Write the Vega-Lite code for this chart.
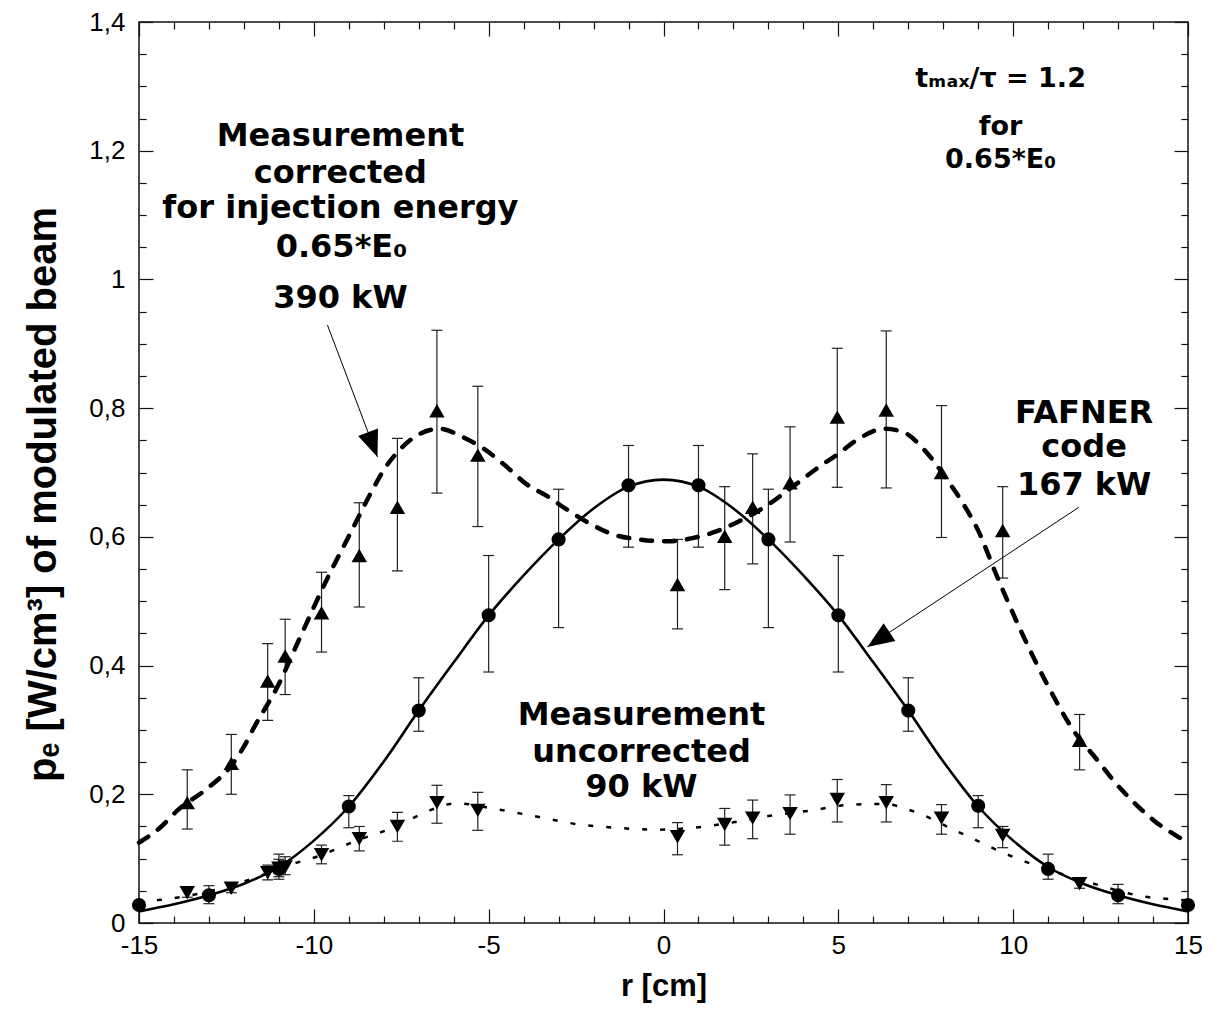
{
  "$schema": "https://vega.github.io/schema/vega-lite/v6.json",
  "width": 1049,
  "height": 901,
  "autosize": {"type": "none"},
  "padding": {"left": 139, "top": 22, "right": 31, "bottom": 105},
  "background": "white",
  "config": {
    "view": {"stroke": "#111", "strokeWidth": 1.5},
    "axis": {"grid": false, "domain": false}
  },
  "datasets": {
    "curves": [
      {"series": "fafner", "x": -15, "y": 0.018}, {"series": "fafner", "x": -14, "y": 0.029}, {"series": "fafner", "x": -13, "y": 0.043},
      {"series": "fafner", "x": -12, "y": 0.061}, {"series": "fafner", "x": -11, "y": 0.087}, {"series": "fafner", "x": -10, "y": 0.128},
      {"series": "fafner", "x": -9, "y": 0.181}, {"series": "fafner", "x": -8, "y": 0.251}, {"series": "fafner", "x": -7, "y": 0.330},
      {"series": "fafner", "x": -6, "y": 0.405}, {"series": "fafner", "x": -5, "y": 0.478}, {"series": "fafner", "x": -4, "y": 0.540},
      {"series": "fafner", "x": -3, "y": 0.596}, {"series": "fafner", "x": -2, "y": 0.644}, {"series": "fafner", "x": -1, "y": 0.678},
      {"series": "fafner", "x": 0, "y": 0.689}, {"series": "fafner", "x": 1, "y": 0.678}, {"series": "fafner", "x": 2, "y": 0.644},
      {"series": "fafner", "x": 3, "y": 0.596}, {"series": "fafner", "x": 4, "y": 0.540}, {"series": "fafner", "x": 5, "y": 0.478},
      {"series": "fafner", "x": 6, "y": 0.405}, {"series": "fafner", "x": 7, "y": 0.330}, {"series": "fafner", "x": 8, "y": 0.251},
      {"series": "fafner", "x": 9, "y": 0.181}, {"series": "fafner", "x": 10, "y": 0.128}, {"series": "fafner", "x": 11, "y": 0.087},
      {"series": "fafner", "x": 12, "y": 0.061}, {"series": "fafner", "x": 13, "y": 0.043}, {"series": "fafner", "x": 14, "y": 0.029},
      {"series": "fafner", "x": 15, "y": 0.018},
      {"series": "corrected", "x": -15, "y": 0.125}, {"series": "corrected", "x": -14.4, "y": 0.148}, {"series": "corrected", "x": -13.9, "y": 0.175},
      {"series": "corrected", "x": -13.05, "y": 0.209}, {"series": "corrected", "x": -12.4, "y": 0.242}, {"series": "corrected", "x": -12.0, "y": 0.274},
      {"series": "corrected", "x": -11.7, "y": 0.305}, {"series": "corrected", "x": -11.06, "y": 0.365}, {"series": "corrected", "x": -10.4, "y": 0.443},
      {"series": "corrected", "x": -9.6, "y": 0.537}, {"series": "corrected", "x": -8.97, "y": 0.604}, {"series": "corrected", "x": -8.4, "y": 0.665},
      {"series": "corrected", "x": -8.0, "y": 0.704}, {"series": "corrected", "x": -7.55, "y": 0.735}, {"series": "corrected", "x": -7.07, "y": 0.757},
      {"series": "corrected", "x": -6.41, "y": 0.768}, {"series": "corrected", "x": -5.74, "y": 0.755}, {"series": "corrected", "x": -5.17, "y": 0.738},
      {"series": "corrected", "x": -4.51, "y": 0.710}, {"series": "corrected", "x": -3.92, "y": 0.682}, {"series": "corrected", "x": -3.35, "y": 0.664},
      {"series": "corrected", "x": -2.78, "y": 0.643}, {"series": "corrected", "x": -2.12, "y": 0.621}, {"series": "corrected", "x": -1.45, "y": 0.604},
      {"series": "corrected", "x": -0.69, "y": 0.596}, {"series": "corrected", "x": 0.07, "y": 0.593}, {"series": "corrected", "x": 0.83, "y": 0.598},
      {"series": "corrected", "x": 1.49, "y": 0.608}, {"series": "corrected", "x": 2.15, "y": 0.624}, {"series": "corrected", "x": 2.91, "y": 0.647},
      {"series": "corrected", "x": 3.67, "y": 0.677}, {"series": "corrected", "x": 4.43, "y": 0.708}, {"series": "corrected", "x": 5.0, "y": 0.729},
      {"series": "corrected", "x": 5.57, "y": 0.752}, {"series": "corrected", "x": 6.33, "y": 0.768}, {"series": "corrected", "x": 6.89, "y": 0.762},
      {"series": "corrected", "x": 7.46, "y": 0.735}, {"series": "corrected", "x": 8.12, "y": 0.688}, {"series": "corrected", "x": 8.6, "y": 0.649},
      {"series": "corrected", "x": 8.98, "y": 0.612}, {"series": "corrected", "x": 9.55, "y": 0.537}, {"series": "corrected", "x": 10.22, "y": 0.454},
      {"series": "corrected", "x": 10.98, "y": 0.370}, {"series": "corrected", "x": 11.74, "y": 0.298}, {"series": "corrected", "x": 12.41, "y": 0.253},
      {"series": "corrected", "x": 12.89, "y": 0.220}, {"series": "corrected", "x": 13.46, "y": 0.187}, {"series": "corrected", "x": 14.03, "y": 0.159},
      {"series": "corrected", "x": 14.89, "y": 0.128}, {"series": "corrected", "x": 15, "y": 0.124},
      {"series": "uncorrected", "x": -15, "y": 0.032}, {"series": "uncorrected", "x": -14.38, "y": 0.036}, {"series": "uncorrected", "x": -13.62, "y": 0.042},
      {"series": "uncorrected", "x": -12.39, "y": 0.058}, {"series": "uncorrected", "x": -11.44, "y": 0.075}, {"series": "uncorrected", "x": -10.77, "y": 0.089},
      {"series": "uncorrected", "x": -9.92, "y": 0.103}, {"series": "uncorrected", "x": -8.78, "y": 0.128}, {"series": "uncorrected", "x": -7.64, "y": 0.150},
      {"series": "uncorrected", "x": -6.69, "y": 0.175}, {"series": "uncorrected", "x": -5.93, "y": 0.186}, {"series": "uncorrected", "x": -4.79, "y": 0.177},
      {"series": "uncorrected", "x": -3.5, "y": 0.164}, {"series": "uncorrected", "x": -2.4, "y": 0.153}, {"series": "uncorrected", "x": -1.36, "y": 0.148},
      {"series": "uncorrected", "x": -0.22, "y": 0.145}, {"series": "uncorrected", "x": 0.83, "y": 0.148}, {"series": "uncorrected", "x": 1.96, "y": 0.156},
      {"series": "uncorrected", "x": 3.1, "y": 0.167}, {"series": "uncorrected", "x": 4.24, "y": 0.175}, {"series": "uncorrected", "x": 5.38, "y": 0.184},
      {"series": "uncorrected", "x": 6.31, "y": 0.185}, {"series": "uncorrected", "x": 7.17, "y": 0.173}, {"series": "uncorrected", "x": 8.41, "y": 0.142},
      {"series": "uncorrected", "x": 10.12, "y": 0.100}, {"series": "uncorrected", "x": 11.46, "y": 0.075}, {"series": "uncorrected", "x": 12.5, "y": 0.058},
      {"series": "uncorrected", "x": 13.64, "y": 0.042}, {"series": "uncorrected", "x": 14.78, "y": 0.036}, {"series": "uncorrected", "x": 15, "y": 0.035}
    ],
    "points": [
      {"series": "circle", "x": -15, "y": 0.028, "lo": 0.024, "hi": 0.032},
      {"series": "circle", "x": -13, "y": 0.043, "lo": 0.030, "hi": 0.058},
      {"series": "circle", "x": -11, "y": 0.084, "lo": 0.068, "hi": 0.107},
      {"series": "circle", "x": -9, "y": 0.181, "lo": 0.148, "hi": 0.198},
      {"series": "circle", "x": -7, "y": 0.330, "lo": 0.298, "hi": 0.381},
      {"series": "circle", "x": -5, "y": 0.478, "lo": 0.390, "hi": 0.571},
      {"series": "circle", "x": -3, "y": 0.596, "lo": 0.459, "hi": 0.674},
      {"series": "circle", "x": -1, "y": 0.680, "lo": 0.584, "hi": 0.742},
      {"series": "circle", "x": 1, "y": 0.680, "lo": 0.584, "hi": 0.742},
      {"series": "circle", "x": 3, "y": 0.596, "lo": 0.459, "hi": 0.674},
      {"series": "circle", "x": 5, "y": 0.478, "lo": 0.390, "hi": 0.571},
      {"series": "circle", "x": 7, "y": 0.330, "lo": 0.298, "hi": 0.381},
      {"series": "circle", "x": 9, "y": 0.182, "lo": 0.148, "hi": 0.198},
      {"series": "circle", "x": 11, "y": 0.084, "lo": 0.068, "hi": 0.107},
      {"series": "circle", "x": 13, "y": 0.043, "lo": 0.030, "hi": 0.060},
      {"series": "circle", "x": 15, "y": 0.028, "lo": 0.024, "hi": 0.032},
      {"series": "up", "x": -13.62, "y": 0.187, "lo": 0.146, "hi": 0.238},
      {"series": "up", "x": -12.36, "y": 0.248, "lo": 0.200, "hi": 0.293},
      {"series": "up", "x": -11.32, "y": 0.376, "lo": 0.315, "hi": 0.434},
      {"series": "up", "x": -10.82, "y": 0.415, "lo": 0.355, "hi": 0.472},
      {"series": "up", "x": -9.78, "y": 0.482, "lo": 0.421, "hi": 0.545},
      {"series": "up", "x": -8.70, "y": 0.571, "lo": 0.491, "hi": 0.653},
      {"series": "up", "x": -7.61, "y": 0.646, "lo": 0.547, "hi": 0.753},
      {"series": "up", "x": -6.48, "y": 0.796, "lo": 0.668, "hi": 0.921},
      {"series": "up", "x": -5.31, "y": 0.727, "lo": 0.616, "hi": 0.834},
      {"series": "up", "x": 0.40, "y": 0.526, "lo": 0.457, "hi": 0.596},
      {"series": "up", "x": 1.75, "y": 0.601, "lo": 0.518, "hi": 0.678},
      {"series": "up", "x": 2.55, "y": 0.646, "lo": 0.558, "hi": 0.729},
      {"series": "up", "x": 3.62, "y": 0.684, "lo": 0.592, "hi": 0.771},
      {"series": "up", "x": 4.97, "y": 0.786, "lo": 0.677, "hi": 0.893},
      {"series": "up", "x": 6.37, "y": 0.797, "lo": 0.676, "hi": 0.920},
      {"series": "up", "x": 7.95, "y": 0.700, "lo": 0.599, "hi": 0.804},
      {"series": "up", "x": 9.70, "y": 0.610, "lo": 0.536, "hi": 0.678},
      {"series": "up", "x": 11.90, "y": 0.284, "lo": 0.238, "hi": 0.324},
      {"series": "down", "x": -13.62, "y": 0.047, "lo": 0.040, "hi": 0.054},
      {"series": "down", "x": -12.36, "y": 0.054, "lo": 0.047, "hi": 0.061},
      {"series": "down", "x": -11.32, "y": 0.078, "lo": 0.067, "hi": 0.090},
      {"series": "down", "x": -11.0, "y": 0.085, "lo": 0.072, "hi": 0.099},
      {"series": "down", "x": -10.82, "y": 0.087, "lo": 0.075, "hi": 0.103},
      {"series": "down", "x": -9.78, "y": 0.106, "lo": 0.092, "hi": 0.121},
      {"series": "down", "x": -8.70, "y": 0.131, "lo": 0.112, "hi": 0.150},
      {"series": "down", "x": -7.61, "y": 0.150, "lo": 0.127, "hi": 0.172},
      {"series": "down", "x": -6.48, "y": 0.187, "lo": 0.155, "hi": 0.214},
      {"series": "down", "x": -5.31, "y": 0.175, "lo": 0.144, "hi": 0.203},
      {"series": "down", "x": 0.40, "y": 0.134, "lo": 0.106, "hi": 0.156},
      {"series": "down", "x": 1.75, "y": 0.153, "lo": 0.121, "hi": 0.178},
      {"series": "down", "x": 2.55, "y": 0.163, "lo": 0.131, "hi": 0.191},
      {"series": "down", "x": 3.62, "y": 0.170, "lo": 0.138, "hi": 0.199},
      {"series": "down", "x": 4.97, "y": 0.192, "lo": 0.157, "hi": 0.223},
      {"series": "down", "x": 6.37, "y": 0.187, "lo": 0.157, "hi": 0.215},
      {"series": "down", "x": 7.95, "y": 0.163, "lo": 0.138, "hi": 0.184},
      {"series": "down", "x": 9.70, "y": 0.136, "lo": 0.117, "hi": 0.150},
      {"series": "down", "x": 11.90, "y": 0.061, "lo": 0.054, "hi": 0.068}
    ],
    "notes": [
      {"block": "big", "x": -9.24, "y": 1.207, "label": "Measurement"},
      {"block": "big", "x": -9.24, "y": 1.150, "label": "corrected"},
      {"block": "big", "x": -9.24, "y": 1.095, "label": "for injection energy"},
      {"block": "big", "x": -9.21, "y": 1.035, "label": "0.65*E₀"},
      {"block": "big", "x": -9.24, "y": 0.956, "label": "390 kW"},
      {"block": "big", "x": -0.63, "y": 0.308, "label": "Measurement"},
      {"block": "big", "x": -0.63, "y": 0.250, "label": "uncorrected"},
      {"block": "big", "x": -0.63, "y": 0.196, "label": "90 kW"},
      {"block": "big", "x": 12.03, "y": 0.777, "label": "FAFNER"},
      {"block": "big", "x": 12.03, "y": 0.724, "label": "code"},
      {"block": "big", "x": 12.03, "y": 0.665, "label": "167 kW"},
      {"block": "small", "x": 9.64, "y": 1.299, "label": "tₘₐₓ/τ = 1.2"},
      {"block": "small", "x": 9.64, "y": 1.224, "label": "for"},
      {"block": "small", "x": 9.64, "y": 1.173, "label": "0.65*E₀"}
    ],
    "arrows": [
      {"id": "a1", "x": -9.61, "y": 0.929, "x2": -8.18, "y2": 0.724},
      {"id": "a2", "x": 11.88, "y": 0.646, "x2": 5.83, "y2": 0.429}
    ]
  },
  "resolve": {"axis": {"x": "independent", "y": "independent"}},
  "encoding": {
    "x": {"field": "x", "type": "quantitative", "scale": {"domain": [-15, 15], "nice": false, "zero": false}, "axis": null},
    "y": {"field": "y", "type": "quantitative", "scale": {"domain": [0, 1.4], "nice": false, "zero": false}, "axis": null}
  },
  "layer": [
    {
      "data": {"name": "points"},
      "mark": {"type": "rule", "color": "#222", "strokeWidth": 1.2},
      "encoding": {
        "y": {"field": "lo", "type": "quantitative", "scale": {"domain": [0, 1.4], "nice": false, "zero": false}, "axis": null},
        "y2": {"field": "hi"}
      }
    },
    {
      "data": {"name": "points"},
      "mark": {"type": "tick", "orient": "horizontal", "color": "#222", "size": 11, "thickness": 1.2, "opacity": 1},
      "encoding": {
        "y": {"field": "lo", "type": "quantitative", "scale": {"domain": [0, 1.4], "nice": false, "zero": false}, "axis": null}
      }
    },
    {
      "data": {"name": "points"},
      "mark": {"type": "tick", "orient": "horizontal", "color": "#222", "size": 11, "thickness": 1.2, "opacity": 1},
      "encoding": {
        "y": {"field": "hi", "type": "quantitative", "scale": {"domain": [0, 1.4], "nice": false, "zero": false}, "axis": null}
      }
    },
    {
      "data": {"name": "curves"},
      "transform": [{"filter": "datum.series === 'fafner'"}],
      "mark": {"type": "line", "color": "#000", "strokeWidth": 2.6, "interpolate": "monotone"},
      "encoding": {
        "x": {"field": "x", "type": "quantitative", "scale": {"domain": [-15, 15], "nice": false, "zero": false},
          "axis": {"orient": "bottom", "values": [-15, -10, -5, 0, 5, 10, 15], "ticks": false, "domain": false,
            "labelExpr": "toString(datum.value)", "labelFlush": false, "labelOverlap": false,
            "labelFont": "Liberation Sans", "labelFontSize": 26, "labelColor": "#000", "labelPadding": 9,
            "title": "r [cm]", "titleFont": "Liberation Sans", "titleFontSize": 31, "titleFontWeight": "bold", "titleColor": "#000",
            "titleY": 63, "titleBaseline": "middle"}},
        "y": {"field": "y", "type": "quantitative", "scale": {"domain": [0, 1.4], "nice": false, "zero": false},
          "axis": {"orient": "left", "values": [0, 0.2, 0.4, 0.6, 0.8, 1, 1.2, 1.4], "ticks": false, "domain": false,
            "labelExpr": "replace(format(datum.value, '~g'), '.', ',')", "labelOverlap": false, "labelFlush": false,
            "labelFont": "Liberation Sans", "labelFontSize": 26, "labelColor": "#000", "labelPadding": 14,
            "labelAlign": "right", "labelBaseline": "middle",
            "title": "pₑ [W/cm³] of modulated beam", "titleFont": "Liberation Sans", "titleFontSize": 40, "titleFontWeight": "bold",
            "titleColor": "#000", "titleX": -96, "titleY": 472, "titleAngle": -90, "titleAlign": "center", "titleBaseline": "middle"}}
      }
    },
    {
      "data": {"name": "curves"},
      "transform": [{"filter": "datum.series === 'corrected'"}],
      "mark": {"type": "line", "color": "#000", "strokeWidth": 4.5, "strokeDash": [11, 12], "strokeCap": "round", "interpolate": "monotone"},
      "encoding": {
        "x": {"field": "x", "type": "quantitative", "scale": {"domain": [-15, 15], "nice": false, "zero": false},
          "axis": {"orient": "bottom", "values": [-15, -14, -13, -12, -11, -10, -9, -8, -7, -6, -5, -4, -3, -2, -1, 0, 1, 2, 3, 4, 5, 6, 7, 8, 9, 10, 11, 12, 13, 14, 15],
            "labels": false, "domain": false, "ticks": true, "tickColor": "#111", "tickWidth": 1.2,
            "tickSize": {"condition": {"test": "datum.value % 5 === 0", "value": -14}, "value": -7}, "title": null}},
        "y": {"field": "y", "type": "quantitative", "scale": {"domain": [0, 1.4], "nice": false, "zero": false},
          "axis": {"orient": "left", "values": [0, 0.05, 0.1, 0.15, 0.2, 0.25, 0.3, 0.35, 0.4, 0.45, 0.5, 0.55, 0.6, 0.65, 0.7, 0.75, 0.8, 0.85, 0.9, 0.95, 1, 1.05, 1.1, 1.15, 1.2, 1.25, 1.3, 1.35, 1.4],
            "labels": false, "domain": false, "ticks": true, "tickColor": "#111", "tickWidth": 1.2,
            "tickSize": {"condition": {"test": "abs(datum.value / 0.2 - round(datum.value / 0.2)) < 0.001", "value": -14}, "value": -7}, "title": null}}
      }
    },
    {
      "data": {"name": "curves"},
      "transform": [{"filter": "datum.series === 'uncorrected'"}],
      "mark": {"type": "line", "color": "#000", "strokeWidth": 2.5, "strokeDash": [5, 13], "interpolate": "monotone"},
      "encoding": {
        "x": {"field": "x", "type": "quantitative", "scale": {"domain": [-15, 15], "nice": false, "zero": false},
          "axis": {"orient": "top", "values": [-15, -14, -13, -12, -11, -10, -9, -8, -7, -6, -5, -4, -3, -2, -1, 0, 1, 2, 3, 4, 5, 6, 7, 8, 9, 10, 11, 12, 13, 14, 15],
            "labels": false, "domain": false, "ticks": true, "tickColor": "#111", "tickWidth": 1.2,
            "tickSize": {"condition": {"test": "datum.value % 5 === 0", "value": -14}, "value": -7}, "title": null}},
        "y": {"field": "y", "type": "quantitative", "scale": {"domain": [0, 1.4], "nice": false, "zero": false},
          "axis": {"orient": "right", "values": [0, 0.05, 0.1, 0.15, 0.2, 0.25, 0.3, 0.35, 0.4, 0.45, 0.5, 0.55, 0.6, 0.65, 0.7, 0.75, 0.8, 0.85, 0.9, 0.95, 1, 1.05, 1.1, 1.15, 1.2, 1.25, 1.3, 1.35, 1.4],
            "labels": false, "domain": false, "ticks": true, "tickColor": "#111", "tickWidth": 1.2,
            "tickSize": {"condition": {"test": "abs(datum.value / 0.2 - round(datum.value / 0.2)) < 0.001", "value": -14}, "value": -7}, "title": null}}
      }
    },
    {
      "data": {"name": "points"},
      "transform": [{"filter": "datum.series === 'circle'"}],
      "mark": {"type": "point", "shape": "circle", "filled": true, "color": "#000", "size": 200, "opacity": 1}
    },
    {
      "data": {"name": "points"},
      "transform": [{"filter": "datum.series === 'up'"}],
      "mark": {"type": "point", "shape": "triangle-up", "filled": true, "color": "#000", "size": 240, "opacity": 1}
    },
    {
      "data": {"name": "points"},
      "transform": [{"filter": "datum.series === 'down'"}],
      "mark": {"type": "point", "shape": "triangle-down", "filled": true, "color": "#000", "size": 240, "opacity": 1}
    },
    {
      "data": {"name": "arrows"},
      "mark": {"type": "rule", "color": "#000", "strokeWidth": 1},
      "encoding": {"x2": {"field": "x2"}, "y2": {"field": "y2"}}
    },
    {
      "data": {"name": "arrows"},
      "transform": [{"filter": "datum.id === 'a1'"}],
      "mark": {"type": "point", "shape": "M0,0L-1,-0.4L-1,0.4Z", "filled": true, "color": "#000", "size": 2830, "angle": 69.3, "opacity": 1},
      "encoding": {
        "x": {"field": "x2", "type": "quantitative", "scale": {"domain": [-15, 15], "nice": false, "zero": false}, "axis": null},
        "y": {"field": "y2", "type": "quantitative", "scale": {"domain": [0, 1.4], "nice": false, "zero": false}, "axis": null}
      }
    },
    {
      "data": {"name": "arrows"},
      "transform": [{"filter": "datum.id === 'a2'"}],
      "mark": {"type": "point", "shape": "M0,0L-1,-0.4L-1,0.4Z", "filled": true, "color": "#000", "size": 2830, "angle": 146.4, "opacity": 1},
      "encoding": {
        "x": {"field": "x2", "type": "quantitative", "scale": {"domain": [-15, 15], "nice": false, "zero": false}, "axis": null},
        "y": {"field": "y2", "type": "quantitative", "scale": {"domain": [0, 1.4], "nice": false, "zero": false}, "axis": null}
      }
    },
    {
      "data": {"name": "notes"},
      "transform": [{"filter": "datum.block === 'big'"}],
      "mark": {"type": "text", "font": "DejaVu Sans", "fontWeight": "bold", "fontSize": 32, "align": "center", "baseline": "alphabetic", "color": "#000"},
      "encoding": {"text": {"field": "label"}}
    },
    {
      "data": {"name": "notes"},
      "transform": [{"filter": "datum.block === 'small'"}],
      "mark": {"type": "text", "font": "DejaVu Sans", "fontWeight": "bold", "fontSize": 27, "align": "center", "baseline": "alphabetic", "color": "#000"},
      "encoding": {"text": {"field": "label"}}
    }
  ]
}
